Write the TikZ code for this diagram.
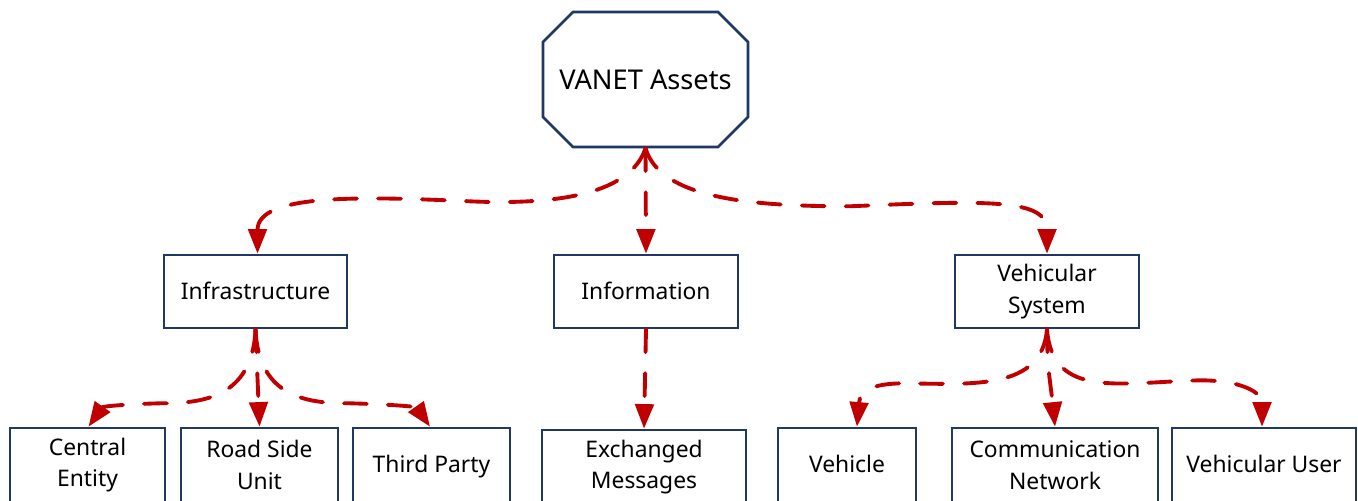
\documentclass[tikz,border=0pt]{standalone}
\usepackage{fontspec}
\setmainfont{Noto Sans}
\usetikzlibrary{arrows.meta, shapes.misc}

\definecolor{boxnavy}{RGB}{31,56,100}
\definecolor{linkred}{RGB}{192,0,0}

\tikzset{
  asset/.style={draw=boxnavy, line width=1.5pt, fill=white, align=center, inner sep=0pt,
    font=\fontsize{13}{18}\selectfont},
  oneline/.style={text height=9pt, text depth=0pt},
  link/.style={draw=linkred, line width=2.2pt, line cap=round, dash pattern=on 13pt off 12pt,
    -{Triangle[length=14pt,width=10.5pt]}},
}

\begin{document}
\begin{tikzpicture}[x=0.02cm, y=0.02cm]
  \useasboundingbox[fill=white] (0,0) rectangle (1358,-500);

  % Root asset
  \node[asset, chamfered rectangle, chamfered rectangle xsep=0.4cm, chamfered rectangle ysep=0.4cm,
    minimum width=4.1cm, minimum height=2.7cm, font=\fontsize{15.5}{18}\selectfont]
    (vanet) at (645.5,-79.5) {VANET Assets};

  % Asset groups
  \node[asset, oneline, minimum width=3.66cm, minimum height=1.46cm] (infra) at (255.5,-291.5) {Infrastructure};
  \node[asset, oneline, minimum width=3.68cm, minimum height=1.46cm] (info) at (646,-291.5) {Information};
  \node[asset, minimum width=3.68cm, minimum height=1.46cm] (vsys) at (1047,-291.5) {Vehicular\\System};

  % Leaf assets
  \node[asset, minimum width=3.1cm, minimum height=1.48cm] (central) at (87.5,-465) {Central\\Entity};
  \node[asset, minimum width=3.14cm, minimum height=1.48cm] (rsu) at (259.5,-465) {Road Side\\Unit};
  \node[asset, oneline, minimum width=3.14cm, minimum height=1.48cm] (third) at (431.5,-465) {Third Party};
  \node[asset, minimum width=4.08cm, minimum height=1.48cm] (msgs) at (644,-467) {Exchanged\\Messages};
  \node[asset, oneline, minimum width=2.76cm, minimum height=1.48cm] (vehicle) at (847,-465) {Vehicle};
  \node[asset, minimum width=4.12cm, minimum height=1.48cm] (comm) at (1055,-465) {Communication\\Network};
  \node[asset, oneline, minimum width=3.68cm, minimum height=1.48cm] (vuser) at (1264,-465) {Vehicular User};

  % Root to groups
  \draw[link] (vanet.south) .. controls +(-15,-45) and +(90,-4) .. ++(-176,-53)
    .. controls +(-110,5) and +(0,60) .. ([xshift=0.04cm]infra.north);
  \draw[link] (vanet.south) -- (info.north);
  \draw[link] (vanet.south) .. controls +(15,-50) and +(-100,0) .. ++(204,-58)
    .. controls +(140,6) and +(0,55) .. (vsys.north);

  % Infrastructure
  \draw[link] (infra.south) .. controls +(-3,-70) and +(40,0) .. ++(-95.5,-74)
    .. controls +(-40,-1) and +(14,20) .. ([xshift=0.02cm]central.north);
  \draw[link] (infra.south) -- (rsu.north);
  \draw[link] (infra.south) .. controls +(3,-70) and +(-40,0) .. ++(94.5,-74)
    .. controls +(40,-1) and +(-14,20) .. ([xshift=-0.03cm]third.north);

  % Information
  \draw[link] (info.south) -- (msgs.north);

  % Vehicular system
  \draw[link] (vsys.south) .. controls +(-5,-60) and +(70,-1) .. ++(-142,-54)
    .. controls +(-35,0) and +(3,35) .. ([xshift=0.2cm]vehicle.north);
  \draw[link] (vsys.south) .. controls +(0,-40) and +(-4,40) .. (comm.north);
  \draw[link] (vsys.south) .. controls +(5,-70) and +(-80,-2) .. ++(153,-51)
    .. controls +(40,0) and +(0,35) .. ([xshift=-0.04cm]vuser.north);
\end{tikzpicture}
\end{document}
